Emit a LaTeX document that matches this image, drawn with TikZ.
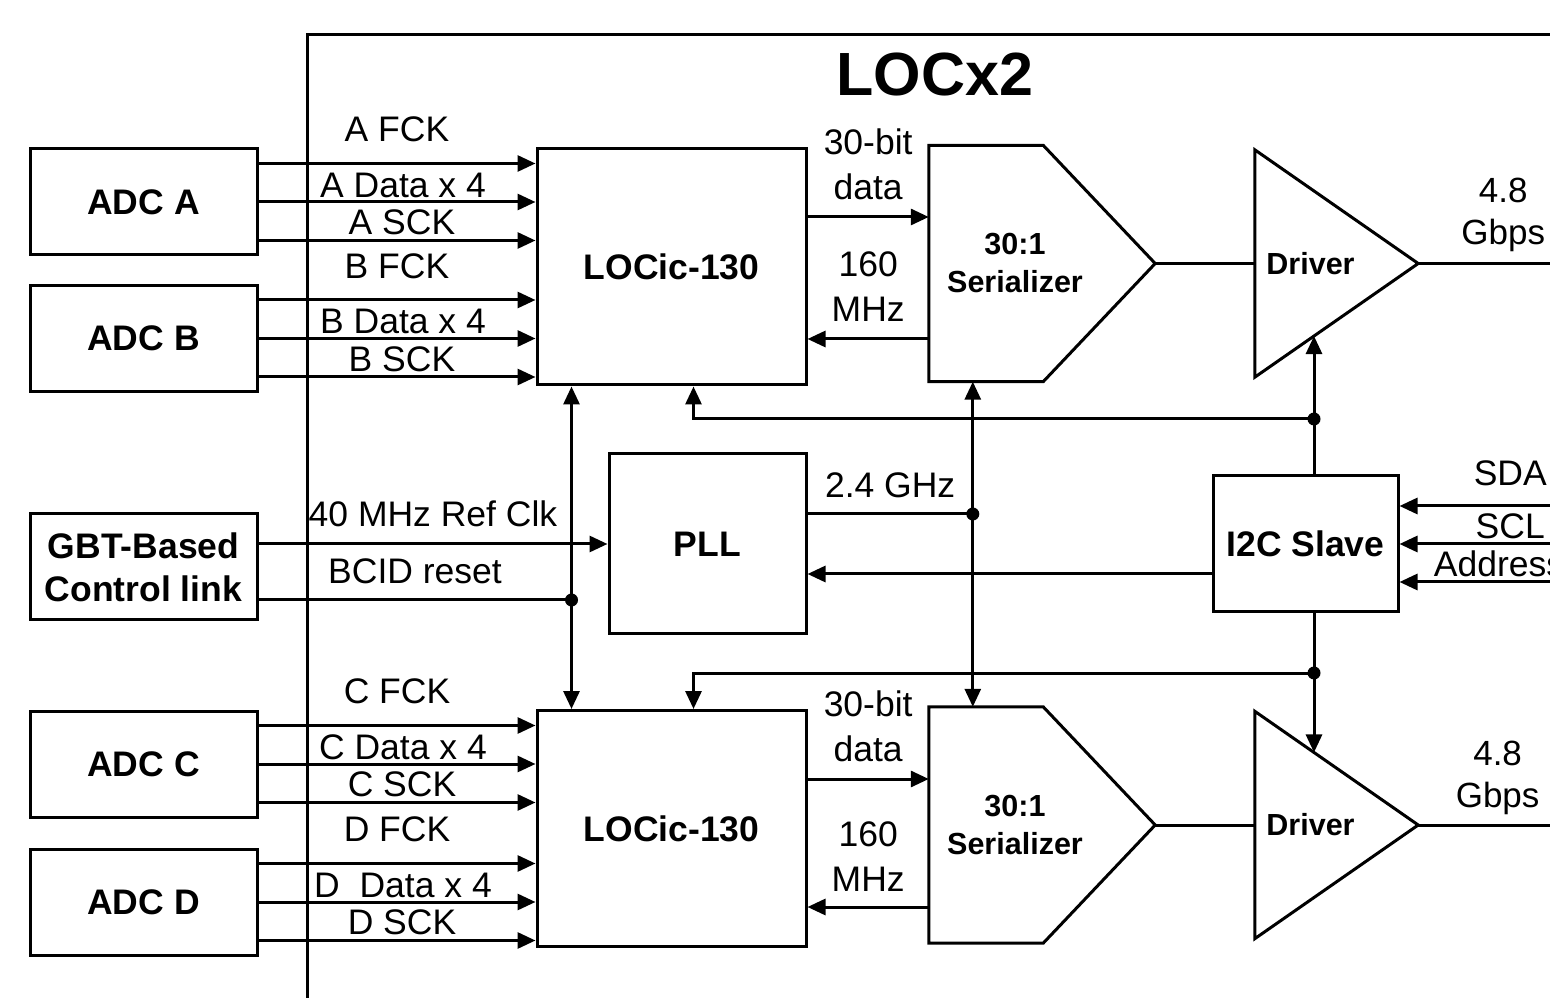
\documentclass[tikz,border=0pt]{standalone}
\usepackage{fontspec}
\setmainfont{Liberation Sans}
\usetikzlibrary{arrows.meta,positioning,calc}
\tikzset{
  >={Triangle[length=18pt,width=16pt]},
  every node/.style={inner sep=0pt,font=\fontsize{35.5}{45}\selectfont},
  wire/.style={line width=3pt},
  sig/.style={wire,->},
  bidir/.style={wire,<->},
  blk/.style={draw,line width=3pt,align=center,font=\bfseries\fontsize{35.5}{43}\selectfont},
  adcbox/.style={blk,minimum width=227pt,minimum height=106pt},
  locbox/.style={blk,minimum width=269pt,minimum height=236pt},
  serbox/.style={minimum width=226pt,minimum height=236pt},
  drvbox/.style={minimum width=163pt,minimum height=227pt},
  symtxt/.style={align=center,font=\bfseries\fontsize{30.5}{38}\selectfont},
  twoline/.style={align=center,font=\fontsize{35.5}{45}\selectfont},
  rate/.style={align=center,font=\fontsize{35}{42}\selectfont},
  chiptitle/.style={font=\bfseries\fontsize{61}{70}\selectfont},
}
\begin{document}
\begin{tikzpicture}[x=1pt,y=1pt]
\useasboundingbox (0,0) rectangle (1550,997);
% chip outline
\draw[wire] (307,-20) rectangle (1600,962);
\node[chiptitle] (title) at (935,922) {LOCx2};

% front-end ADCs and control link
\node[adcbox] (adcA) at (143.5,795) {ADC A};
\node[adcbox] (adcB) at (143.5,658.5) {ADC B};
\node[adcbox] (gbt) at (143.5,430) {GBT-Based\\Control link};
\node[adcbox] (adcC) at (143.5,233) {ADC C};
\node[adcbox] (adcD) at (143.5,95) {ADC D};

% core blocks
\node[locbox] (locA) at (671.5,730) {LOCic-130};
\node[locbox] (locB) at (671.5,168.5) {LOCic-130};
\node[blk,minimum width=197pt,minimum height=180pt] (pll) at (707.5,453) {PLL};
\node[blk,minimum width=185pt,minimum height=136pt] (i2c) at (1305.5,453) {I2C Slave};

% serializer and driver symbols
\node[serbox] (serA) at (1042,733.5) {};
\node[serbox] (serB) at (1042,172) {};
\node[drvbox] (drvA) at (1336.5,733.5) {};
\node[drvbox] (drvB) at (1336.5,172) {};
\foreach \ser in {serA,serB}
  \draw[wire] (\ser.north west) -- ([xshift=-112pt]\ser.north east) -- (\ser.east)
    -- ([xshift=-112pt]\ser.south east) -- (\ser.south west) -- cycle;
\foreach \drv in {drvA,drvB}
  \draw[wire] (\drv.north west) -- (\drv.east) -- (\drv.south west) -- cycle;
\node[symtxt] (serAtxt) at ([xshift=-27pt]serA.center) {30:1\\Serializer};
\node[symtxt] (serBtxt) at ([xshift=-27pt]serB.center) {30:1\\Serializer};
\node[symtxt] (drvAtxt) at ([xshift=-26pt]drvA.center) {Driver};
\node[symtxt] (drvBtxt) at ([xshift=-26pt]drvB.center) {Driver};

% ADC links
\foreach \adc/\core/\dt in {A/locA/A Data x 4, B/locA/B Data x 4, C/locB/C Data x 4, D/locB/D\ \ Data x 4}{
  \draw[sig] ([yshift=38.5pt]adc\adc.east) -- node[above=20pt] {\adc\ FCK} ([yshift=38.5pt]adc\adc.east -| \core.west);
  \draw[sig] (adc\adc.east) -- node[above=3pt,xshift=6pt] {\dt} (adc\adc.east -| \core.west);
  \draw[sig] ([yshift=-38.5pt]adc\adc.east) -- node[above=4pt,xshift=5pt] {\adc\ SCK} ([yshift=-38.5pt]adc\adc.east -| \core.west);
}

% clock and reset
\coordinate (rstBus) at ([xshift=36pt]locA.south west);
\coordinate (clkBus) at ([xshift=44pt]serA.south west);
\draw[sig] ([yshift=23pt]gbt.east) -- node[above=16pt] {40 MHz Ref Clk} ([yshift=23pt]gbt.east -| pll.west);
\draw[wire] ([yshift=-33pt]gbt.east) -- node[above=15pt] {BCID reset} ([yshift=-33pt]gbt.east -| rstBus) coordinate (rst);
\draw[bidir] (rstBus) -- ([xshift=36pt]locB.north west);
\fill (rst) circle (6.5pt);
\draw[wire] ([yshift=30pt]pll.east) -- node[above=15pt] {2.4 GHz} ([yshift=30pt]pll.east -| clkBus) coordinate (clk);
\draw[bidir] (clkBus) -- ([xshift=44pt]serB.north west);
\fill (clk) circle (6.5pt);

% data paths
\coordinate (datA) at ([yshift=46.5pt]serA.west);
\coordinate (ckA) at ([yshift=-75.5pt]serA.west);
\coordinate (datB) at ([yshift=46pt]serB.west);
\coordinate (ckB) at ([yshift=-82pt]serB.west);
\draw[sig] (datA -| locA.east) -- node[twoline,above=16pt] {30-bit\\data} (datA);
\draw[sig] (ckA) -- node[twoline,above=16pt] {160\\MHz} (ckA -| locA.east);
\draw[sig] (datB -| locB.east) -- node[twoline,above=16pt] {30-bit\\data} (datB);
\draw[sig] (ckB) -- node[twoline,above=14pt] {160\\MHz} (ckB -| locB.east);
\draw[wire] (serA.east) -- (drvA.west);
\draw[wire] (serB.east) -- (drvB.west);
\coordinate (outA) at (1560,733.5);
\coordinate (outB) at (1560,172);
\draw[wire] (drvA.east) -- node[rate,pos=0.6,above=10pt] {4.8\\Gbps} (outA);
\draw[wire] (drvB.east) -- node[rate,pos=0.56,above=9pt] {4.8\\Gbps} (outB);

% slow control
\coordinate (i2cUp) at ([xshift=8.5pt]i2c.north);
\coordinate (i2cDn) at ([xshift=8.5pt]i2c.south);
\path (drvA.south west) -- (drvA.east) coordinate[pos=0.362] (drvAin);
\path (drvB.north west) -- (drvB.east) coordinate[pos=0.362] (drvBin);
\coordinate (ctlA) at (1314,578);
\coordinate (ctlB) at (1314,324);
\draw[sig] (i2cUp) -- (i2cUp |- drvAin);
\draw[sig] (i2cDn) -- (i2cDn |- drvBin);
\draw[sig] (ctlA) -| ([xshift=158pt]locA.south west);
\draw[sig] (ctlB) -| ([xshift=158pt]locB.north west);
\fill (ctlA) circle (6.5pt);
\fill (ctlB) circle (6.5pt);
\draw[sig] ([yshift=-30pt]i2c.west) -- ([yshift=-30pt]i2c.west -| pll.east);
\coordinate (sdaIn) at (1560,491);
\coordinate (sclIn) at (1560,453);
\coordinate (adrIn) at (1560,415);
\draw[sig] (sdaIn) -- node[pos=0.31,above=19pt] {SDA} (sdaIn -| i2c.east);
\draw[sig] (sclIn) -- node[pos=0.31,above=4pt] {SCL} (sclIn -| i2c.east);
\draw[sig] (adrIn) -- node[pos=0.38,above=4pt] {Address} (adrIn -| i2c.east);
\end{tikzpicture}
\end{document}
